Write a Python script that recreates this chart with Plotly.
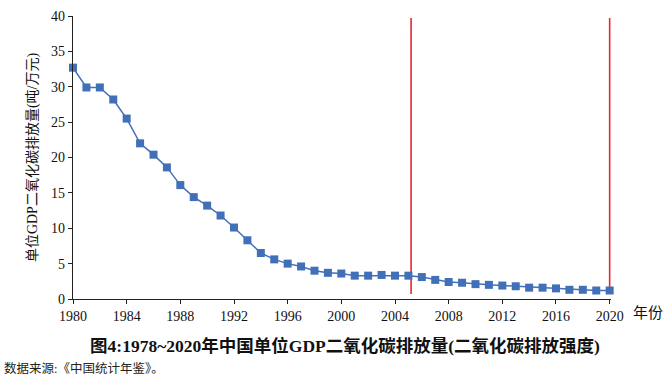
import plotly.graph_objects as go

years = list(range(1980, 2021))
intensity = [32.7, 29.9, 29.9, 28.2, 25.5, 22.0, 20.4, 18.6, 16.1, 14.4,
             13.2, 11.8, 10.1, 8.3, 6.5, 5.6, 5.0, 4.6, 4.0, 3.7,
             3.6, 3.3, 3.3, 3.4, 3.3, 3.3, 3.1, 2.7, 2.4, 2.3,
             2.1, 2.0, 1.9, 1.8, 1.6, 1.6, 1.5, 1.3, 1.3, 1.2, 1.2]
marker_years = [2005.2, 2020]
marker_span = [0.7, 39.7]
x_ticks = list(range(1980, 2021, 4))
y_ticks = list(range(0, 41, 5))

serif = "Liberation Serif, Times New Roman, Noto Sans CJK SC, serif"

fig = go.Figure()
for xv in marker_years:
    fig.add_trace(go.Scatter(
        x=[xv, xv], y=marker_span, mode="lines",
        line=dict(color="#e8262c", width=1.6),
        cliponaxis=False, showlegend=False, hoverinfo="skip",
    ))
fig.add_trace(go.Scatter(
    x=years, y=intensity, mode="lines+markers",
    line=dict(color="#4170b8", width=1.5),
    marker=dict(symbol="square", size=8, color="#4170b8"),
    cliponaxis=False, showlegend=False,
))

fig.update_layout(
    width=669, height=385,
    margin=dict(l=73, r=58, t=16, b=86, autoexpand=False),
    paper_bgcolor="white", plot_bgcolor="white",
    font=dict(family=serif, color="#111111", size=14),
    title=dict(
        text="<b>图4:1978~2020年中国单位GDP二氧化碳排放量(二氧化碳排放强度)</b>",
        x=345 / 669, xanchor="center", y=1 - 346 / 385, yanchor="middle",
        font=dict(family=serif, size=17.5, color="#111111"),
    ),
)

fig.update_xaxes(
    range=[1980, 2020.1], tickvals=x_ticks, ticks="outside", ticklen=4,
    tickcolor="#222", showline=True, linecolor="#222", linewidth=1.2,
    showgrid=False, zeroline=False, automargin=False,
    tickfont=dict(size=14, family=serif, color="#111"),
)
fig.update_yaxes(
    range=[0, 40], tickvals=y_ticks, ticks="outside", ticklen=4,
    tickcolor="#222", showline=True, linecolor="#222", linewidth=1.2,
    showgrid=False, zeroline=False, automargin=False,
    tickfont=dict(size=14, family=serif, color="#111"),
    title=dict(text="单位GDP二氧化碳排放量(吨/万元)", standoff=10,
               font=dict(size=14, family=serif, color="#111")),
)

fig.add_annotation(text="年份", xref="paper", yref="paper", x=1.037, y=-0.05,
                   xanchor="left", yanchor="middle", showarrow=False,
                   font=dict(size=15, family=serif, color="#111"))
fig.add_annotation(text="数据来源:《中国统计年鉴》。", xref="paper", yref="paper",
                   x=-71 / 538, y=-(368 - 299) / 283, xanchor="left", yanchor="middle",
                   showarrow=False, font=dict(size=12.5, family=serif, color="#222"))

fig.write_html("out.html", config={"displayModeBar": False},
               post_script="document.body.style.margin='0px';")
